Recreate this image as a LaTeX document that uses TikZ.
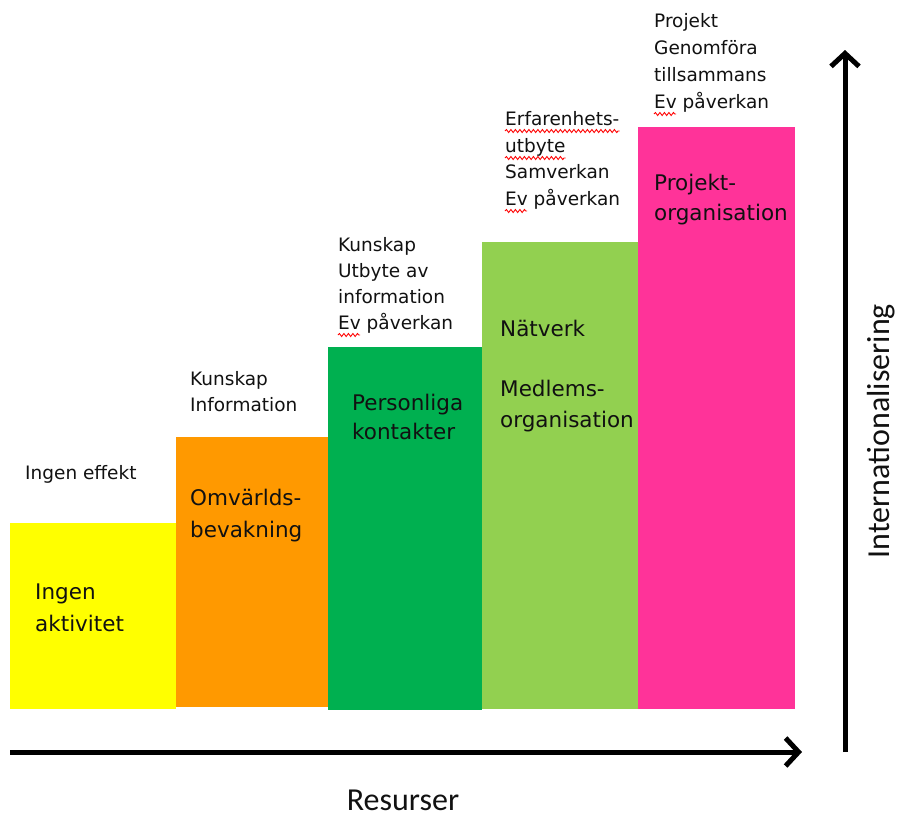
\documentclass[tikz,border=0pt]{standalone}
\usepackage{fontspec}
\usetikzlibrary{arrows.meta,decorations.pathmorphing,calc}
\newfontfamily\boxfont{DejaVu Sans}
\newfontfamily\axfont{Carlito}
\definecolor{cyellow}{HTML}{FFFF00}
\definecolor{corange}{HTML}{FF9900}
\definecolor{cdgreen}{HTML}{00B050}
\definecolor{clgreen}{HTML}{92D050}
\definecolor{cpink}{HTML}{FF3399}
\definecolor{txt}{HTML}{111111}
\tikzset{
  bar/.style={rectangle, inner sep=0, outer sep=0, anchor=south west, draw=none},
  small/.style={anchor=base west, inner sep=0, text=txt, font=\boxfont\fontsize{18.5}{22}\selectfont},
  big/.style={anchor=base west, inner sep=0, text=txt, font=\boxfont\fontsize{21.5}{26}\selectfont},
  axis/.style={line width=5pt, -{Straight Barb[length=13pt, width=28pt, line width=5pt]}},
  spell/.style={draw=red, line width=0.9pt, decorate, decoration={snake, segment length=4.5pt, amplitude=1.5pt}},
  axlabel/.style={inner sep=0, text=txt, font=\axfont\fontsize{32}{38}\selectfont}
}
\begin{document}
\begin{tikzpicture}[x=1pt, y=-1pt]
\useasboundingbox (0,0) rectangle (899,820);
% bars
\node[bar, fill=cyellow, minimum width=166pt, minimum height=186pt] (b1) at (10,709) {};
\node[bar, fill=corange, minimum width=152pt, minimum height=270pt] (b2) at (176,707) {};
\node[bar, fill=cdgreen, minimum width=154pt, minimum height=363pt] (b3) at (328,710) {};
\node[bar, fill=clgreen, minimum width=156pt, minimum height=467pt] (b4) at (482,709) {};
\node[bar, fill=cpink, minimum width=157pt, minimum height=582pt] (b5) at (638,709) {};
% axes
\coordinate (hs) at (10,752);
\coordinate (he) at (802,752);
\coordinate (vs) at (845,752);
\coordinate (ve) at (845,50);
\draw[axis] (hs) -- (he);
\draw[axis] (vs) -- (ve);
\node[axlabel, anchor=base] (res) at (403,810) {Resurser};
\node[axlabel, rotate=90, anchor=center] (int) at (881,431) {Internationalisering};
% step 1
\node[small] (s1a) at (25,479) {Ingen effekt};
\node[big] (i1a) at (35,599) {Ingen};
\node[big] (i1b) at (35,631) {aktivitet};
% step 2
\node[small] (s2a) at (190,385) {Kunskap};
\node[small] (s2b) at (190,411) {Information};
\node[big] (i2a) at (190,505) {Omvärlds-};
\node[big] (i2b) at (190,537) {bevakning};
% step 3
\node[small] (s3a) at (338,251) {Kunskap};
\node[small] (s3b) at (338,277) {Utbyte av};
\node[small] (s3c) at (338,303) {information};
\node[small] (s3d) at (338,329) {Ev påverkan};
\node[big] (i3a) at (352,410) {Personliga};
\node[big] (i3b) at (352,439) {kontakter};
% step 4
\node[small] (s4a) at (505,125) {Erfarenhets-};
\node[small] (s4b) at (505,152) {utbyte};
\node[small] (s4c) at (505,178) {Samverkan};
\node[small] (s4d) at (505,205) {Ev påverkan};
\node[big] (i4a) at (500,336) {Nätverk};
\node[big] (i4b) at (500,396) {Medlems-};
\node[big] (i4c) at (500,427) {organisation};
% step 5
\node[small] (s5a) at (654,27) {Projekt};
\node[small] (s5b) at (654,54) {Genomföra};
\node[small] (s5c) at (654,81) {tillsammans};
\node[small] (s5d) at (654,108) {Ev påverkan};
\node[big] (i5a) at (654,190) {Projekt-};
\node[big] (i5b) at (654,220) {organisation};
% spelling marks
\draw[spell] ($(s4a.base west)+(0,6)$) -- ($(s4a.base east)+(0,6)$);
\draw[spell] ($(s4b.base west)+(0,6)$) -- ($(s4b.base east)+(0,6)$);
\draw[spell] ($(s4d.base west)+(0,6)$) -- ($(s4d.base west)+(22,6)$);
\draw[spell] ($(s3d.base west)+(0,6)$) -- ($(s3d.base west)+(22,6)$);
\draw[spell] ($(s5d.base west)+(0,6)$) -- ($(s5d.base west)+(22,6)$);
\end{tikzpicture}
\end{document}
